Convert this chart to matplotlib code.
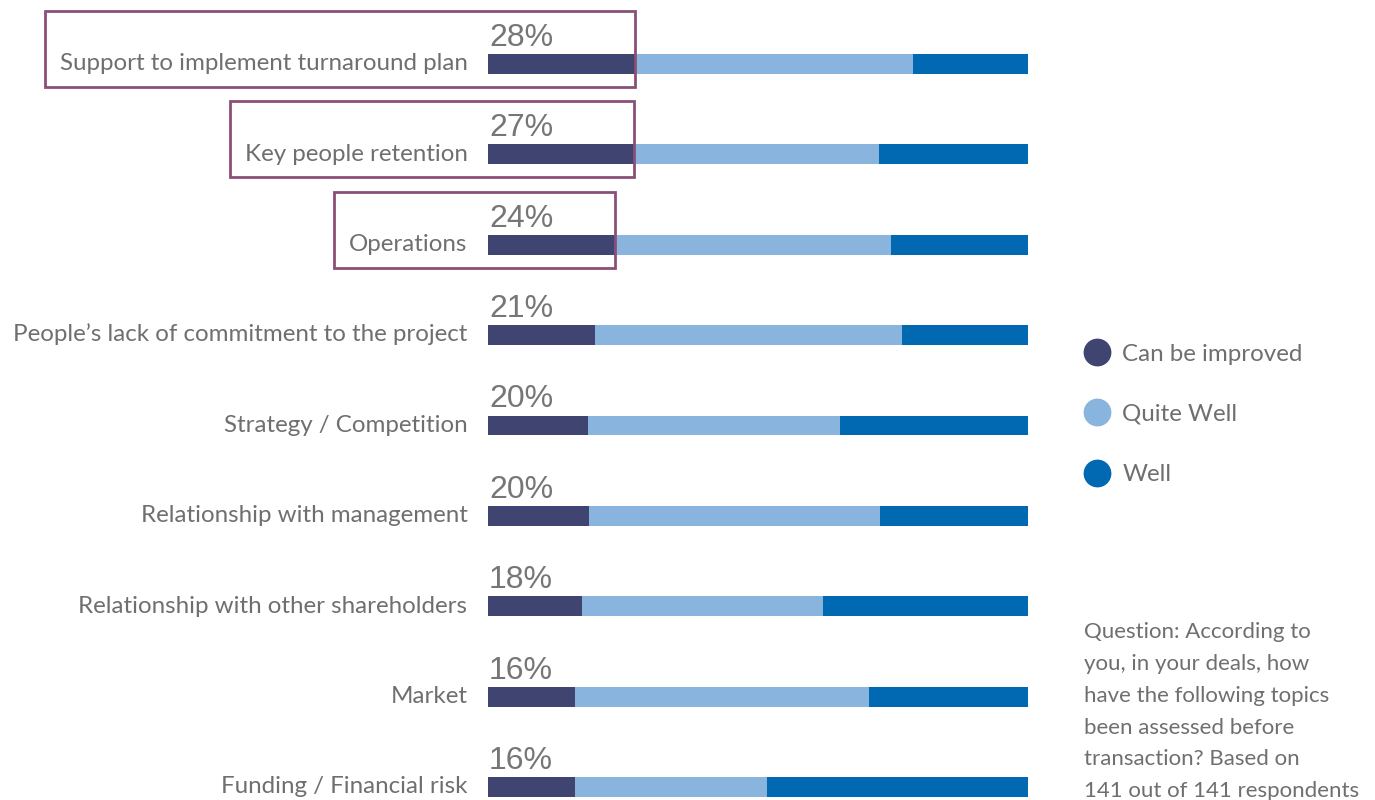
import matplotlib.pyplot as plt
from matplotlib.lines import Line2D
from matplotlib.patches import Rectangle

W, H, DPI = 1375, 800, 100

topics = [
    "Support to implement turnaround plan",
    "Key people retention",
    "Operations",
    "People\u2019s lack of commitment to the project",
    "Strategy / Competition",
    "Relationship with management",
    "Relationship with other shareholders",
    "Market",
    "Funding / Financial risk",
]
pct_labels = ["28%", "27%", "24%", "21%", "20%", "20%", "18%", "16%", "16%"]
can_improve = [27.2, 27.0, 23.5, 19.9, 18.5, 18.7, 17.4, 16.1, 16.1]
quite_well = [51.5, 45.4, 51.1, 56.7, 46.7, 53.9, 44.6, 54.5, 35.5]
well = [21.3, 27.6, 25.4, 23.4, 34.8, 27.4, 38.0, 29.4, 48.4]
highlighted = [0, 1, 2]

series = ["Can be improved", "Quite Well", "Well"]
colors = ["#3f4470", "#89b4de", "#0069b2"]
TXT = "#6f6f6f"
BOX = "#8a4f78"
LABEL_FONT = ["Lato", "DejaVu Sans"]
PCT_FONT = ["Liberation Sans", "DejaVu Sans"]

fig = plt.figure(figsize=(W / DPI, H / DPI), dpi=DPI)
ax = fig.add_axes([488 / W, 0, 540 / W, 1])

rows = list(range(len(topics)))
bar_h = 0.22
left = [0] * len(rows)
for vals, col in zip([can_improve, quite_well, well], colors):
    ax.barh(rows, vals, left=left, height=bar_h, color=col, linewidth=0)
    left = [l + v for l, v in zip(left, vals)]

ax.set_xlim(0, 100)
ax.set_ylim(8.144, -0.708)
ax.axis("off")

pct_txt = []
lab_txt = []
for i in rows:
    pct_txt.append(ax.text(0.2, i - 0.2, pct_labels[i], fontsize=23, color="#767676",
                           family=PCT_FONT, va="baseline", ha="left"))
    lab_txt.append(ax.text(-3.8, i + 0.07, topics[i], fontsize=17.4, color=TXT,
                           family=LABEL_FONT, va="baseline", ha="right"))

# highlight boxes around the top three topics
fig.canvas.draw()
r = fig.canvas.get_renderer()
for i in highlighted:
    lb = lab_txt[i].get_window_extent(r)
    pb = pct_txt[i].get_window_extent(r)
    x_end = ax.transData.transform((can_improve[i], i))[0]
    y_bot = ax.transData.transform((0, i + bar_h / 2))[1]
    x0 = lb.x0 - 15
    y0 = y_bot - 13
    y1 = pb.y1 + 12
    fig.patches.append(Rectangle((x0, y0), x_end - x0, y1 - y0, transform=None,
                                 fill=False, edgecolor=BOX, linewidth=2))

handles = [Line2D([], [], marker="o", linestyle="", markersize=19,
                  markerfacecolor=c, markeredgecolor=c) for c in colors]
fig.legend(handles, series, loc="upper left", bbox_to_anchor=(1051 / W, 1 - 322 / H),
           frameon=False, labelspacing=1.62, handletextpad=0.05,
           prop={"family": LABEL_FONT, "size": 17.4}, labelcolor=TXT)

question = ("Question: According to\nyou, in your deals, how\nhave the following topics\n"
            "been assessed before\ntransaction? Based on\n141 out of 141 respondents")
fig.text(1084 / W, 1 - 622 / H, question, fontsize=16, color=TXT, family=LABEL_FONT,
         va="top", ha="left", linespacing=1.74)

fig.savefig("out.png", dpi=DPI)
